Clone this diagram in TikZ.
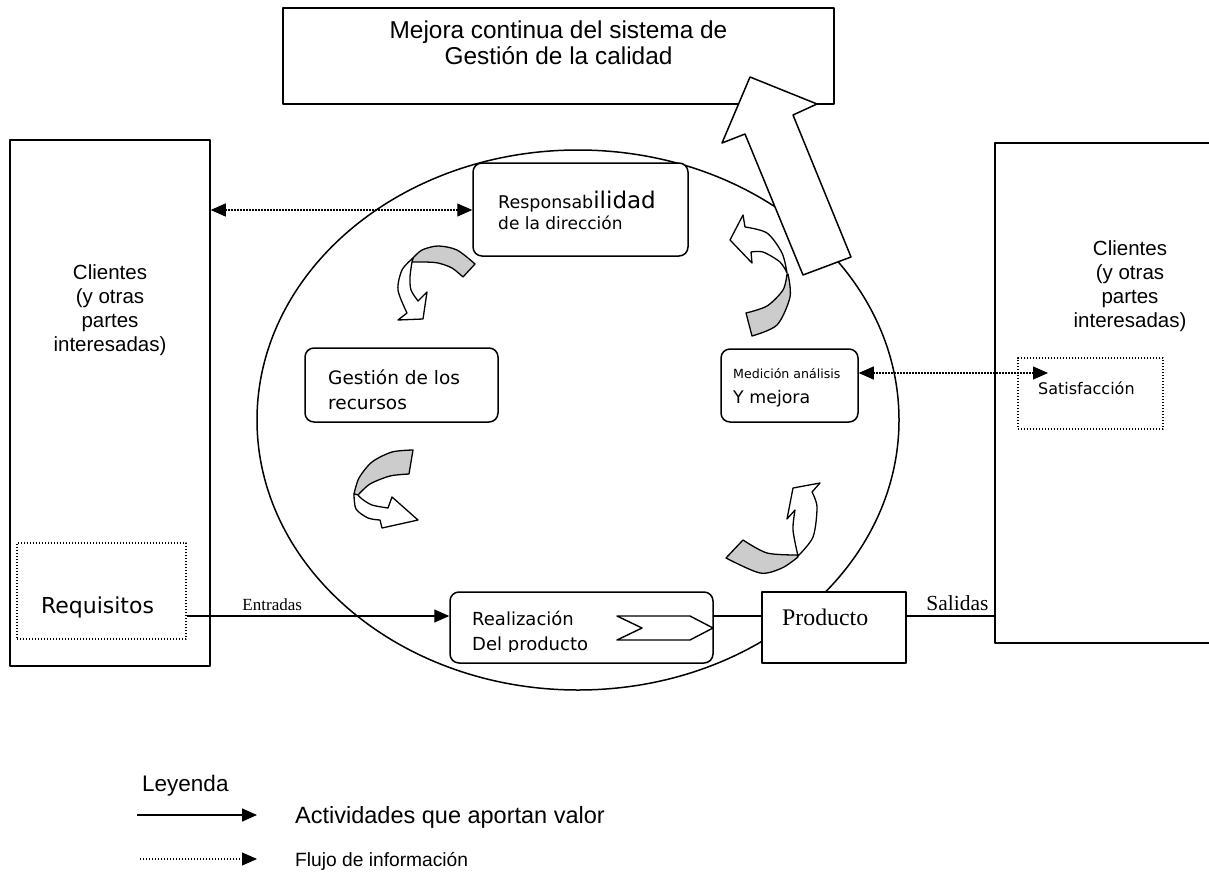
\documentclass[tikz,border=0pt]{standalone}
\usepackage{fontspec}
\usetikzlibrary{arrows.meta}
\newfontfamily\arialf{Liberation Sans}
\newfontfamily\tahf{DejaVu Sans}
\newfontfamily\timesf{Liberation Serif}
\definecolor{band}{RGB}{204,204,204}
\begin{document}
\begin{tikzpicture}[x=1pt,y=-1pt,line join=round,
  box/.style={draw,line width=1.5pt,fill=white,inner sep=0pt},
  rbox/.style={box,rounded corners=9pt},
  dotbox/.style={draw,line width=1.2pt,dash pattern=on 1.2pt off 1.8pt,inner sep=0pt},
  flow/.style={line width=1.4pt,-{Triangle[length=15pt,width=13pt]}},
  plain/.style={line width=1.4pt},
  info/.style={line width=1.1pt,dash pattern=on 1.2pt off 1.8pt,{Triangle[length=15pt,width=13pt]}-{Triangle[length=15pt,width=13pt]}},
  infoone/.style={line width=1.1pt,dash pattern=on 1.2pt off 1.8pt,-{Triangle[length=15pt,width=13pt]}},
  txt/.style={inner sep=0pt,anchor=base west},
  ctxt/.style={inner sep=0pt,anchor=base},
  curv/.style={draw,line width=1.3pt},
]
\useasboundingbox (0,0) rectangle (1209,875);
\fill[white] (0,0) rectangle (1209,875);

% outer boxes
\node[box,minimum width=551pt,minimum height=96pt] (mejora) at (558.5,56) {};
\node[ctxt,font=\fontsize{24.4}{24}\arialf] (mej1) at (558.5,39) {Mejora continua del sistema de};
\node[ctxt,font=\fontsize{24.4}{24}\arialf] (mej2) at (558.5,64) {Gestión de la calidad};

\node[box,minimum width=200pt,minimum height=526pt] (lclient) at (110,403) {};
\node[box,minimum width=220pt,minimum height=500pt] (rclient) at (1105,393) {};

% circle
\draw[line width=1.5pt] (578,420) ellipse [x radius=321pt,y radius=270pt];

% big arrow
\filldraw[fill=white,line width=1.5pt] (750,77) -- (817,104) -- (793,115) -- (851,257) -- (803,275) -- (745,134) -- (722,143) -- cycle;

% inner boxes
\node[rbox,minimum width=215pt,minimum height=93pt] (resp) at (580.5,209.5) {};
\node[rbox,minimum width=193pt,minimum height=74pt] (gest) at (401.5,385) {};
\node[rbox,minimum width=137pt,minimum height=73pt] (med) at (789.5,385.5) {};
\node[rbox,minimum width=263pt,minimum height=71pt] (real) at (581.5,627.5) {};
\node[box,minimum width=144pt,minimum height=71pt] (prod) at (834,627.5) {};

\node[dotbox,minimum width=169pt,minimum height=96pt] (reqbox) at (101.5,591) {};
\node[dotbox,minimum width=145pt,minimum height=71pt] (satbox) at (1090.5,393.5) {};

% texts
\node[ctxt,font=\fontsize{20.5}{24}\arialf,align=center] (lcl) at (110,351) {Clientes\\(y otras\\partes\\interesadas)};
\node[ctxt,font=\fontsize{20.5}{24}\arialf,align=center] (rcl) at (1130,327) {Clientes\\(y otras\\partes\\interesadas)};
\node[ctxt,font=\fontsize{22}{24}\tahf] (req) at (97.5,613) {Requisitos};
\node[txt,font=\fontsize{17.5}{20}\tahf] (resp1) at (498,208) {Responsab{\fontsize{23}{26}\selectfont ilidad}};
\node[txt,font=\fontsize{17}{20}\tahf] (resp2) at (498,229) {de la dirección};
\node[txt,font=\fontsize{18.5}{20}\tahf] (gest1) at (328,384) {Gestión de los};
\node[txt,font=\fontsize{18.5}{20}\tahf] (gest2) at (328,409) {recursos};
\node[txt,font=\fontsize{12.6}{15}\tahf] (med1) at (733,378) {Medición análisis};
\node[txt,font=\fontsize{17.4}{20}\tahf] (med2) at (733,403) {Y mejora};
\node[txt,font=\fontsize{18}{20}\tahf] (real1) at (472,625) {Realización};
\begin{scope}
\clip (450,592) rectangle (713,651.5);
\node[txt,font=\fontsize{18}{20}\tahf] (real2) at (472,650) {Del producto};
\end{scope}
\node[txt,font=\fontsize{16}{18}\tahf] (sat) at (1038,394) {Satisfacción};
\node[txt,font=\fontsize{23.8}{26}\timesf] (prodt) at (782,625) {Producto};

% chevron inside Realizacion
\draw[line width=1.4pt] (617,616) -- (690,616) -- (713,628) -- (690,640) -- (617,640) -- (642,628) -- cycle;

% connectors
\coordinate (ln) at (0,616);
\coordinate (ti) at (0,210);
\coordinate (si) at (0,373);
\coordinate (satend) at (1048,373);
\draw[flow] (reqbox.east |- ln) -- node[pos=0.326,above=5pt,inner sep=0pt,font=\fontsize{17}{20}\timesf] (entr) {Entradas} (real.west |- ln);
\draw[plain] (real.east |- ln) -- (prod.west |- ln);
\draw[plain] (prod.east |- ln) -- node[pos=0.58,above=5pt,inner sep=0pt,font=\fontsize{21.5}{24}\timesf] (sal) {Salidas} (rclient.west |- ln);
\draw[info] (lclient.east |- ti) -- (resp.west |- ti);
\draw[info] (med.east |- si) -- (satend);

% curved arrows
% arrow 1 (top left)
\filldraw[curv,fill=band] plot[smooth] coordinates {(475,264) (457,250) (438,246) (422,250) (413,258)} -- plot[smooth] coordinates {(412,262) (425,262) (438,263) (452,268) (463,277)} -- cycle;
\filldraw[curv,fill=white] plot[smooth] coordinates {(413,258) (402,270) (398,290) (407,313)} -- (398,320) -- (423,319) -- (427,292) -- plot[smooth] coordinates {(418,301) (411,290) (410,277) (412,262)} -- cycle;
% arrow 2 (left middle)
\filldraw[curv,fill=band] plot[smooth] coordinates {(413,450) (392,452) (372,462) (359,478) (354,494)} -- plot[smooth] coordinates {(358,495) (370,484) (390,476) (409,474)} -- cycle;
\filldraw[curv,fill=white] plot[smooth] coordinates {(354,494) (356,509) (368,518) (380,520)} -- (382,528) -- (418,520) -- (392,497) -- plot[smooth] coordinates {(388,508) (372,505) (362,499) (358,495)} -- cycle;
% arrow 3 (top right)
\filldraw[curv,fill=band] plot[smooth] coordinates {(746,313) (767,306) (783,290) (787,274)} -- plot[smooth] coordinates {(788,274) (790,297) (777,325) (752,336)} -- cycle;
\filldraw[curv,fill=white] plot[smooth] coordinates {(787,273) (782,253) (767,233) (745,227)} -- (743,215) -- (730,240) -- (752,263) -- plot[smooth] coordinates {(751,252) (763,252) (780,262) (787,273)} -- cycle;
% arrow 4 (bottom right)
\filldraw[curv,fill=band] plot[smooth] coordinates {(743,540) (767,553) (797,555)} -- plot[smooth] coordinates {(798,557) (782,568) (760,573) (726,558)} -- cycle;
\filldraw[curv,fill=white] plot[smooth] coordinates {(798,556) (813,537) (817,507) (812,492)} -- (820,483) -- (793,488) -- (787,519) -- plot[smooth] coordinates {(795,510) (793,530) (798,556)} -- cycle;

% legend
\node[txt,font=\fontsize{22.5}{24}\arialf] (ley) at (142,791) {Leyenda};
\coordinate (la1) at (137,815);
\coordinate (la2) at (257,815);
\coordinate (lb1) at (140,859);
\coordinate (lb2) at (257,859);
\draw[flow] (la1) -- (la2);
\draw[infoone] (lb1) -- (lb2);
\node[txt,font=\fontsize{23.5}{26}\arialf] (act) at (295,823) {Actividades que aportan valor};
\node[txt,font=\fontsize{19.2}{22}\arialf] (flu) at (295,866) {Flujo de información};
\end{tikzpicture}
\end{document}
